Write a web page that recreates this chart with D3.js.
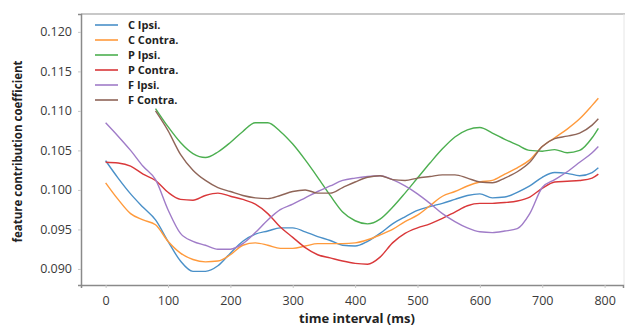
<!DOCTYPE html>
<html>
<head>
<meta charset="utf-8">
<script src="https://cdn.jsdelivr.net/npm/d3@7"></script>
<style>
    body { margin: 0; background: #fff; }
    svg text { font-family: "Open Sans", "DejaVu Sans", sans-serif; }
</style>
</head>
<body>
<div id="content"></div>
<script>
// ======= data =======
var times = [0, 20, 40, 60, 80, 100, 120, 140, 160, 180, 200, 220, 240, 260, 280, 300, 320, 340, 360, 380,
    400, 420, 440, 460, 480, 500, 520, 540, 560, 580, 600, 620, 640, 660, 680, 700, 720, 740, 760, 780, 790];

var seriesNames = ["C Ipsi.", "C Contra.", "P Ipsi.", "P Contra.", "F Ipsi.", "F Contra."];
var seriesColors = ["#4a90c8", "#ff9a3c", "#4caf50", "#d9383a", "#a07cc8", "#8f6558"];

var cIpsi = [0.1037, 0.1015, 0.0995, 0.0978, 0.0962, 0.0935, 0.0910, 0.0897, 0.0897, 0.0904,
    0.0920, 0.0935, 0.0944, 0.0948, 0.0952, 0.0952, 0.0947, 0.0941, 0.0936, 0.0930,
    0.0929, 0.0935, 0.0945, 0.0957, 0.0966, 0.0974, 0.0979, 0.0983, 0.0988, 0.0993,
    0.0995, 0.0990, 0.0991, 0.0997, 0.1005, 0.1016, 0.1022, 0.1021, 0.1018, 0.1022, 0.1028];
var cContra = [0.1009, 0.0988, 0.0970, 0.0962, 0.0956, 0.0935, 0.0920, 0.0912, 0.0909, 0.0910,
    0.0918, 0.0930, 0.0933, 0.0930, 0.0926, 0.0926, 0.0929, 0.0932, 0.0932, 0.0932,
    0.0933, 0.0937, 0.0943, 0.0950, 0.0960, 0.0968, 0.0980, 0.0992, 0.0998, 0.1005,
    0.1010, 0.1012, 0.1020, 0.1028, 0.1038, 0.1055, 0.1066, 0.1077, 0.1090, 0.1107, 0.1116];
var pIpsi = [null, null, null, null, 0.1103, 0.1080, 0.1060, 0.1046, 0.1041, 0.1048,
    0.1060, 0.1074, 0.1085, 0.1085, 0.1074, 0.1058, 0.1038, 0.1016, 0.0993, 0.0972,
    0.0961, 0.0957, 0.0963, 0.0978, 0.0996, 0.1015, 0.1034, 0.1052, 0.1067, 0.1076,
    0.1079, 0.1072, 0.1064, 0.1057, 0.1050, 0.1049, 0.1051, 0.1047, 0.1050, 0.1066, 0.1078];
var pContra = [0.1035, 0.1034, 0.1030, 0.1020, 0.1012, 0.0997, 0.0988, 0.0987, 0.0993, 0.0996,
    0.0992, 0.0988, 0.0982, 0.0970, 0.0953, 0.0940, 0.0927, 0.0918, 0.0914, 0.0910,
    0.0907, 0.0906, 0.0915, 0.0933, 0.0945, 0.0952, 0.0957, 0.0964, 0.0972, 0.0980,
    0.0983, 0.0983, 0.0984, 0.0986, 0.0991, 0.1002, 0.1010, 0.1011, 0.1012, 0.1015, 0.1020];
var fIpsi = [0.1085, 0.1068, 0.1050, 0.1030, 0.1013, 0.0975, 0.0945, 0.0935, 0.0930, 0.0925,
    0.0925, 0.0932, 0.0946, 0.0962, 0.0975, 0.0982, 0.0990, 0.0998, 0.1005, 0.1012,
    0.1015, 0.1017, 0.1018, 0.1013, 0.1005, 0.0995, 0.0983, 0.0970, 0.0960, 0.0952,
    0.0947, 0.0946, 0.0948, 0.0951, 0.0970, 0.1003, 0.1013, 0.1023, 0.1035, 0.1047, 0.1055];
var fContra = [null, null, null, null, 0.1100, 0.1075, 0.1045, 0.1025, 0.1012, 0.1003,
    0.0998, 0.0993, 0.0990, 0.0989, 0.0993, 0.0998, 0.1000, 0.0996, 0.0996, 0.1003,
    0.1010, 0.1016, 0.1018, 0.1013, 0.1012, 0.1015, 0.1017, 0.1019, 0.1019, 0.1015,
    0.1010, 0.1009, 0.1015, 0.1023, 0.1035, 0.1055, 0.1065, 0.1068, 0.1072, 0.1082, 0.1090];

var seriesValues = [cIpsi, cContra, pIpsi, pContra, fIpsi, fContra];

var xTicks = [0, 100, 200, 300, 400, 500, 600, 700, 800];
var yTicks = [0.090, 0.095, 0.100, 0.105, 0.110, 0.115, 0.120];

// ======= layout =======
var width = 625, height = 327;
var margin = {top: 14, right: 2, bottom: 42, left: 81};
var plotW = width - margin.left - margin.right;
var plotH = height - margin.top - margin.bottom;

var svg = d3.select("#content").append("svg")
    .attr("width", width)
    .attr("height", height);

// ======= scales =======
var xScale = d3.scaleLinear().domain([-39.5, 829.5]).range([0, plotW]);
var yScale = d3.scaleLinear().domain([0.08797, 0.12226]).range([plotH, 0]);

var g = svg.append("g")
    .attr("transform", "translate(" + margin.left + "," + margin.top + ")");

// ======= frame =======
g.append("line")
    .attr("x1", 0).attr("x2", plotW + 2)
    .attr("y1", 0).attr("y2", 0)
    .style("stroke", "#c8c8c8").style("stroke-width", 2);
g.append("line")
    .attr("x1", plotW + 1).attr("x2", plotW + 1)
    .attr("y1", 0).attr("y2", plotH)
    .style("stroke", "#e6e6e6").style("stroke-width", 1);

// ======= axes =======
var xAxis = g.append("g")
    .attr("transform", "translate(0," + plotH + ")")
    .call(d3.axisBottom(xScale).tickValues(xTicks).tickSize(3).tickPadding(8));
var yAxis = g.append("g")
    .call(d3.axisLeft(yScale).tickValues(yTicks).tickFormat(d3.format(".3f")).tickSize(3).tickPadding(6));

[xAxis, yAxis].forEach(function(ax) {
    ax.select(".domain").style("stroke", "#8a8a8a").style("stroke-width", 1.5);
    ax.selectAll(".tick line").style("stroke", "#c8c8c8");
    ax.selectAll(".tick text")
        .style("font-size", "12.5px")
        .style("fill", "#3a3a3a");
});

// ======= lines =======
var line = d3.line()
    .defined(function(d) { return d.v !== null; })
    .x(function(d) { return xScale(d.t); })
    .y(function(d) { return yScale(d.v); })
    .curve(d3.curveMonotoneX);

seriesValues.forEach(function(vals, i) {
    var pts = times.map(function(t, j) { return {t: t, v: vals[j]}; });
    g.append("path")
        .datum(pts)
        .attr("d", line)
        .style("fill", "none")
        .style("stroke", seriesColors[i])
        .style("stroke-width", 1.4);
});

// ======= legend =======
var legend = g.append("g").attr("transform", "translate(14,11)");
seriesNames.forEach(function(name, i) {
    var row = legend.append("g").attr("transform", "translate(0," + (i * 15) + ")");
    row.append("line")
        .attr("x1", 0).attr("x2", 23)
        .style("stroke", seriesColors[i])
        .style("stroke-width", 1.6);
    row.append("text")
        .attr("x", 33).attr("y", 4)
        .style("font-size", "11px")
        .style("font-weight", "bold")
        .style("fill", "#222")
        .text(name);
});

// ======= axis labels =======
svg.append("text")
    .attr("x", margin.left + plotW / 2 + 5)
    .attr("y", 323)
    .attr("text-anchor", "middle")
    .style("font-size", "13px")
    .style("font-weight", "bold")
    .style("fill", "#222")
    .text("time interval (ms)");

svg.append("text")
    .attr("transform", "translate(22," + (margin.top + plotH / 2 + 2) + ") rotate(-90)")
    .attr("text-anchor", "middle")
    .style("font-size", "11.5px")
    .style("font-weight", "bold")
    .style("fill", "#222")
    .text("feature contribution coefficient");
</script>
</body>
</html>
